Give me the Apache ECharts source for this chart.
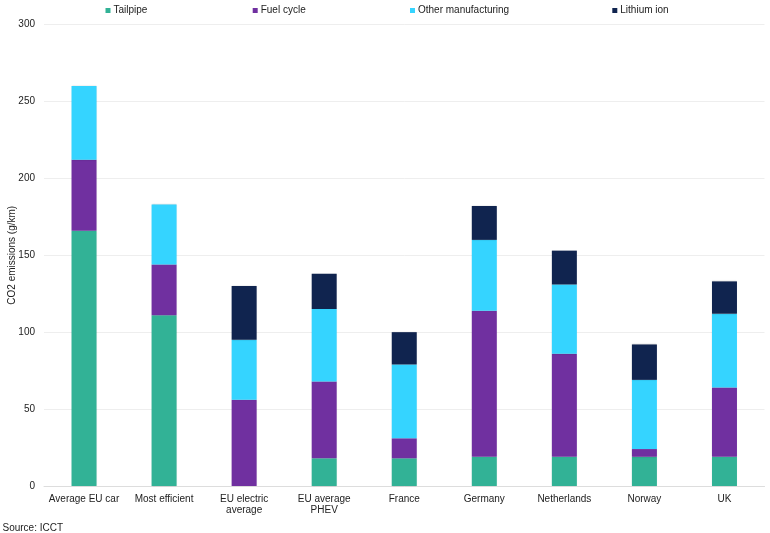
<!DOCTYPE html>
<html><head><meta charset="utf-8">
<style>html,body{margin:0;padding:0;background:#fff}#c{width:770px;height:533px}</style>
<script src="https://cdn.jsdelivr.net/npm/echarts@6/dist/echarts.min.js"></script></head>
<body><div id="c"></div>
<script>
const categories=['Average EU car','Most efficient','EU electric\naverage','EU average\nPHEV','France','Germany','Netherlands','Norway','UK'];
const tailpipe=[166,111,0,18,18,19,19,19,19];
const fuelCycle=[46,33,56,50,13,95,67,5,45];
const otherManufacturing=[48,39,39,47,48,46,45,45,48];
const lithiumIon=[0,0,35,23,21,22,22,23,21];
const names=['Tailpipe','Fuel cycle','Other manufacturing','Lithium ion'];
const colors=['#32B296','#7030A0','#35D4FF','#10244F'];
const values=[tailpipe,fuelCycle,otherManufacturing,lithiumIon];
const legendLeft=[105.5,252.7,410,612.3];
const font='"Liberation Sans", Arial, sans-serif';
const chart=echarts.init(document.getElementById('c'),null,{renderer:'canvas'});
chart.setOption({
  animation:false,
  textStyle:{fontFamily:font},
  title:{text:'Source: ICCT',left:2.5,top:523.5,padding:0,textStyle:{fontSize:10,fontWeight:'normal',color:'#222',fontFamily:font}},
  legend:names.map((n,i)=>({data:[n],left:legendLeft[i],top:5.5,padding:0,itemWidth:5,itemHeight:5,itemGap:3,icon:'rect',
    textStyle:{fontSize:10,color:'#222',fontFamily:font,padding:[0,0,0,-2]}})),
  grid:{left:44,right:5.5,top:24.5,bottom:47,outerBoundsMode:'none'},
  xAxis:{type:'category',data:categories,
    axisLine:{lineStyle:{color:'#DDDDDD',width:1}},axisTick:{show:false},
    axisLabel:{interval:0,fontSize:10,color:'#222',fontFamily:font,margin:7,lineHeight:11.5}},
  yAxis:{type:'value',min:0,max:300,interval:50,
    name:'CO2 emissions (g/km)',nameLocation:'middle',nameRotate:90,nameGap:27,nameMoveOverlap:false,
    nameTextStyle:{fontSize:10,color:'#222',fontFamily:font},
    axisLine:{show:false},axisTick:{show:false},
    axisLabel:{fontSize:10,color:'#222',fontFamily:font,margin:9},
    splitLine:{lineStyle:{color:'#EEEEEE',width:1}}},
  series:names.map((n,i)=>({name:n,type:'bar',stack:'t',barWidth:25,data:values[i],
    itemStyle:{color:colors[i],shadowColor:'rgba(0,0,0,0.22)',shadowBlur:1.5}}))
});
</script></body></html>
